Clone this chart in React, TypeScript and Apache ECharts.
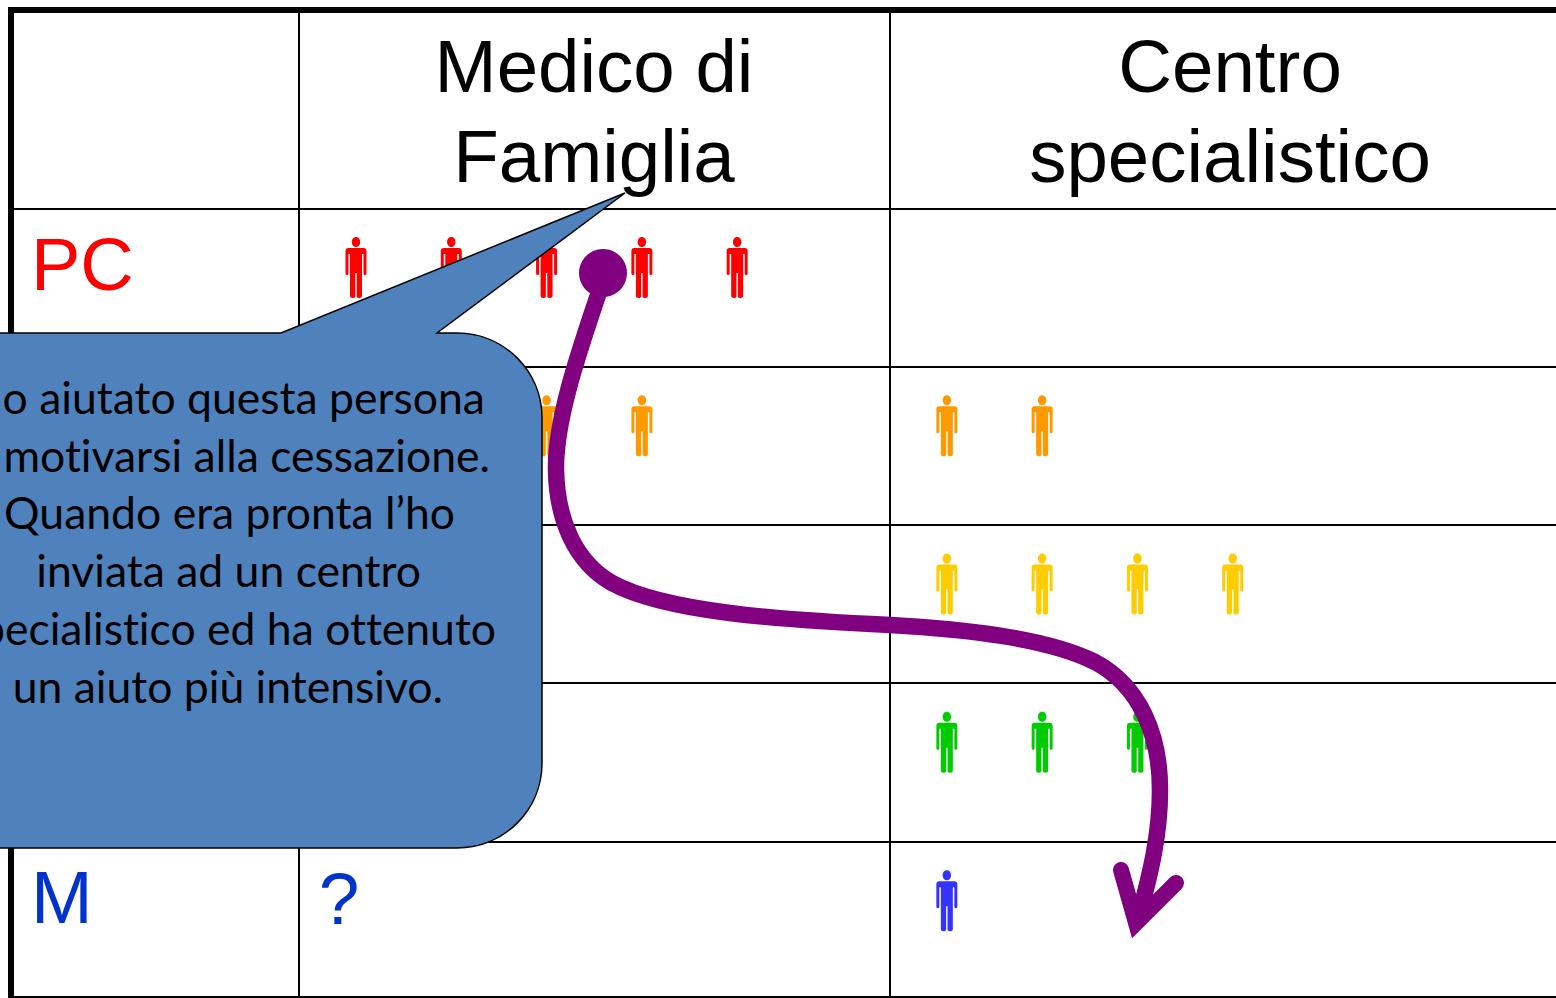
import React, { useEffect, useRef } from "react";
import * as echarts from "echarts";

const rowLabels = ["PC", "", "", "", "M"];
const rowLabelColors = ["#FF0000", "#FF9900", "#FFCC00", "#00CC00", "#0033CC"];
const personColors = ["#FF0000", "#FF9900", "#FFCC00", "#00CC00", "#3333FF"];
const medicoCounts = [5, 4, 0, 0, 0];
const centroCounts = [0, 2, 4, 3, 1];
const columnHeaders = ["Medico di\nFamiglia", "Centro\nspecialistico"];
const calloutLines = [
  "o aiutato questa persona",
  "motivarsi alla cessazione.",
  "Quando era pronta l’ho",
  "inviata ad un centro",
  "pecialistico ed ha ottenuto",
  "un aiuto più intensivo.",
];
const calloutRightEdges = [485, 490, 455, 421, 496, 443];

const CENTRO_FIRST_SLOT = 6.2;
const PERSON =
  "path://M10.5,0 C13,0 14.7,2.2 14.7,5 C14.7,7.8 13,10 10.5,10 C8,10 6.3,7.8 6.3,5 C6.3,2.2 8,0 10.5,0 Z " +
  "M3,11 L18,11 Q21,11 21,14 L21,36.5 Q21,38 19.5,38 Q18,38 18,36.5 L18,17 L16.5,17 L16.5,59 Q16.5,61 14,61 Q11.2,61 11.2,59 L11.2,36 L9.8,36 L9.8,59 Q9.8,61 7,61 Q4.5,61 4.5,59 L4.5,17 L3,17 L3,36.5 Q3,38 1.5,38 Q0,38 0,36.5 L0,14 Q0,11 3,11 Z";

echarts.graphic.registerShape(
  "callout",
  echarts.graphic.extendPath(
    "M-100,333 L281,333 L625,193 L437,333 L457,333 C504,333 542,371 542,418 L542,763 C542,810 504,848 457,848 L-100,848 Z",
    {}
  )
);
echarts.graphic.registerShape(
  "journey",
  echarts.graphic.extendPath(
    "M603,280 C585,335 555,415 556,470 C557,520 575,562 612,583 C665,612 780,620 890,625 C960,629 1045,637 1095,662 C1140,686 1160,735 1160,790 C1160,835 1150,875 1140,912",
    {}
  )
);
echarts.graphic.registerShape(
  "arrowHead",
  echarts.graphic.extendPath("M1121,870 L1136,923 L1176,883", {})
);

function seriesData() {
  const out: any[] = [];
  rowLabels.forEach((_, r) => {
    for (let i = 0; i < medicoCounts[r]; i++)
      out.push({ value: [i, r], itemStyle: { color: personColors[r], opacity: 1 } });
    for (let i = 0; i < centroCounts[r]; i++)
      out.push({ value: [CENTRO_FIRST_SLOT + i, r], itemStyle: { color: personColors[r], opacity: 1 } });
  });
  return out;
}

const hLine = (x1: number, y1: number, x2: number, y2: number, w = 2) => ({
  type: "line",
  z: 100,
  shape: { x1, y1, x2, y2 },
  style: { stroke: "#000", lineWidth: w },
});

export default function App() {
  const ref = useRef<HTMLDivElement>(null);
  useEffect(() => {
    const chart = echarts.init(ref.current!, null, { renderer: "svg" });
    chart.setOption({
      animation: false,
      backgroundColor: "#fff",
      grid: {
        left: 11,
        top: 208.3,
        width: 1545,
        height: 791.5,
        containLabel: false,
        outerBoundsMode: "none",
      },
      xAxis: {
        type: "value",
        min: -3.62,
        max: 12.592,
        show: false,
        splitLine: { show: false },
      },
      yAxis: {
        type: "category",
        inverse: true,
        data: rowLabels,
        axisLine: { show: false },
        axisTick: { show: false },
        splitLine: { show: true, lineStyle: { color: "#000", width: 2 } },
        axisLabel: {
          show: true,
          inside: true,
          interval: 0,
          margin: 20,
          fontFamily: "Liberation Sans",
          fontSize: 74,
          verticalAlign: "bottom",
          lineHeight: 46,
          color: (_v: any, i: number) => rowLabelColors[i],
        },
      },
      series: [
        {
          type: "scatter",
          symbol: PERSON,
          symbolSize: [21, 61],
          symbolOffset: [0, -20],
          z: 5,
          itemStyle: { opacity: 1 },
          data: seriesData(),
          silent: true,
        },
      ],
      graphic: {
        z: 100,
        elements: [
          {
            type: "text",
            z: 100,
            x: 594,
            y: 111,
            style: {
              text: columnHeaders[0],
              fontFamily: "Liberation Sans",
              fontSize: 74.5,
              lineHeight: 90,
              fill: "#000",
              align: "center",
              verticalAlign: "middle",
            },
          },
          {
            type: "text",
            z: 100,
            x: 1230,
            y: 111,
            style: {
              text: columnHeaders[1],
              fontFamily: "Liberation Sans",
              fontSize: 74.5,
              lineHeight: 90,
              fill: "#000",
              align: "center",
              verticalAlign: "middle",
            },
          },
          {
            type: "text",
            z: 100,
            x: 339,
            y: 898,
            style: {
              text: "?",
              fontFamily: "Liberation Sans",
              fontSize: 73,
              fill: "#0033CC",
              align: "center",
              verticalAlign: "middle",
            },
          },
          hLine(299, 12, 299, 998),
          hLine(890, 12, 890, 998),
          hLine(11, 997, 1556, 997),
          { type: "rect", z: 100, shape: { x: 8, y: 7, width: 1548, height: 6 }, style: { fill: "#000" } },
          { type: "rect", z: 100, shape: { x: 8, y: 7, width: 6, height: 991 }, style: { fill: "#000" } },
          {
            type: "callout",
            z: 101,
            style: { fill: "#4F81BD", stroke: "#000", lineWidth: 1.5 },
          },
          ...calloutLines.map((t, i) => ({
            type: "text",
            z: 102,
            x: calloutRightEdges[i],
            y: 396.5 + i * 57.7,
            style: {
              text: t,
              fontFamily: "Lato",
              fontSize: 44.5,
              fill: "#000",
              align: "right",
              verticalAlign: "middle",
            },
          })),
          {
            type: "journey",
            z: 103,
            style: { fill: "none", stroke: "#800080", lineWidth: 16.5, lineCap: "butt" },
          },
          {
            type: "arrowHead",
            z: 103,
            style: { fill: "none", stroke: "#800080", lineWidth: 16, lineCap: "round", lineJoin: "miter" },
          },
          { type: "circle", z: 104, shape: { cx: 603, cy: 273, r: 24 }, style: { fill: "#800080" } },
        ],
      },
    });
    return () => chart.dispose();
  }, []);
  return (
    <>
      <style>{"text{font-variant-ligatures:none}"}</style>
      <div
        ref={ref}
        style={{ position: "fixed", left: 0, top: 0, width: 1556, height: 998, background: "#fff" }}
      />
    </>
  );
}
